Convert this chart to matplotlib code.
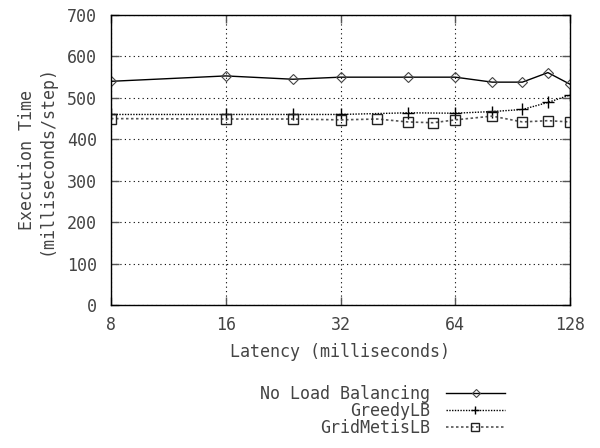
import matplotlib
matplotlib.use("Agg")
import matplotlib.pyplot as plt
from matplotlib.ticker import FixedLocator, FixedFormatter, NullLocator

plt.rcParams['font.family'] = ['DejaVu Sans Mono']

nlb_x = [8, 16, 24, 32, 48, 64, 80, 96, 112, 128]
nlb_y = [540, 553, 545, 550, 550, 550, 538, 538, 561, 533]

greedy_x = [8, 16, 24, 32, 48, 64, 80, 96, 112, 128]
greedy_y = [460, 460, 460, 460, 464, 463, 467, 472, 489, 507]

metis_x = [8, 16, 24, 32, 40, 48, 56, 64, 80, 96, 112, 128]
metis_y = [450, 449, 449, 447, 449, 442, 440, 447, 456, 442, 445, 442]

x_ticks = [8, 16, 32, 64, 128]
x_ticklabels = ["8", "16", "32", "64", "128"]
y_ticks = [0, 100, 200, 300, 400, 500, 600, 700]

labels = ["No Load Balancing", "GreedyLB", "GridMetisLB"]

fig = plt.figure(figsize=(6, 4.48), dpi=100)
ax = fig.add_axes([0.185, 0.319, 0.765, 0.6475])

txt = '#444444'
fs = 12

ax.plot(nlb_x, nlb_y, color='black', lw=1.0, ls='-', marker='D', ms=5,
        mfc='none', mec='#444444', mew=0.8, label=labels[0])
ax.plot(greedy_x, greedy_y, color='black', lw=1.0, ls=(0, (1, 1)), marker='+', ms=8,
        mec='black', mew=1.0, label=labels[1])
ax.plot(metis_x, metis_y, color='#555555', lw=1.2, ls=(0, (1.5, 1.5)), marker='s', ms=7,
        mfc='none', mec='#222222', mew=1.0, label=labels[2])

ax.set_xscale('log', base=2)
ax.set_xlim(8, 128)
ax.set_ylim(0, 700)
ax.xaxis.set_major_locator(FixedLocator(x_ticks))
ax.xaxis.set_major_formatter(FixedFormatter(x_ticklabels))
ax.xaxis.set_minor_locator(NullLocator())
ax.set_yticks(y_ticks)

ax.grid(True, which='major', color='black', ls=(0, (1, 3)), lw=0.8)
ax.tick_params(direction='in', length=6, width=1, top=True, right=True,
               labelsize=fs, labelcolor=txt, color='#555555')
ax.tick_params(axis='x', pad=8)
ax.tick_params(axis='y', pad=10)
for s in ax.spines.values():
    s.set_color('black')
    s.set_linewidth(1.0)

ax.set_xlabel("Latency (milliseconds)", fontsize=fs, color=txt, labelpad=6)
ax.set_ylabel("Execution Time\n(milliseconds/step)", fontsize=fs, color=txt,
              labelpad=8, linespacing=1.15)

leg = fig.legend(loc='upper right', bbox_to_anchor=(0.855, 0.16), markerfirst=False,
                 frameon=False, fontsize=fs, handlelength=3.5, handletextpad=1.0,
                 labelspacing=-0.05, borderpad=0, markerscale=0.8)
for t in leg.get_texts():
    t.set_color(txt)

fig.savefig("out.png", dpi=100)
